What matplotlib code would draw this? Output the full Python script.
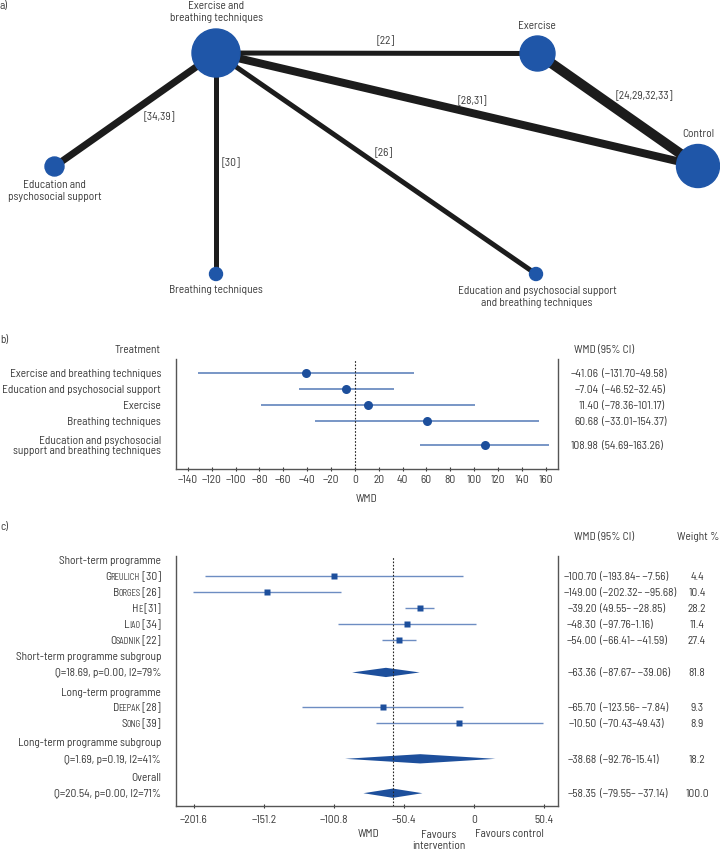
import numpy as np
import matplotlib
matplotlib.use("Agg")
import matplotlib.pyplot as plt
from matplotlib.patches import Circle, Polygon
from matplotlib import transforms

plt.rcParams['font.family'] = ['Barlow Semi Condensed', 'Roboto Condensed',
                               'Archivo Narrow', 'DejaVu Sans']

# ---- a) network ----
nodes = ["Exercise and\nbreathing techniques", "Exercise", "Control",
         "Education and\npsychosocial support", "Breathing techniques",
         "Education and psychosocial support\nand breathing techniques"]
node_radius = [24, 17.5, 21.5, 9.5, 6.5, 6.5]
edges = [(0, 1), (0, 2), (1, 2), (0, 3), (0, 4), (0, 5)]
edge_refs = ["[22]", "[28,31]", "[24,29,32,33]", "[34,39]", "[30]", "[26]"]
edge_width = [5, 8, 10, 7, 5, 5]

# ---- b) league vs control ----
treatments = ["Exercise and breathing techniques", "Education and psychosocial support",
              "Exercise", "Breathing techniques",
              "Education and psychosocial\nsupport and breathing techniques"]
b_est = [-41.06, -7.04, 11.40, 60.68, 108.98]
b_lo = [-131.70, -46.52, -78.36, -33.01, 54.69]
b_hi = [49.58, 32.45, 101.17, 154.37, 163.26]
b_ticks = list(range(-140, 161, 20))

# ---- c) pairwise meta-analysis ----
short_names = ["Greulich", "Borges", "He", "Liao", "Osadnik"]
short_refs = [30, 26, 31, 34, 22]
short_est = [-100.70, -149.00, -39.20, -48.30, -54.00]
short_lo = [-193.84, -202.32, -49.55, -97.76, -66.41]
short_hi = [-7.56, -95.68, -28.85, 1.16, -41.59]
short_ci = ["(−193.84– −7.56)", "(−202.32– −95.68)", "(49.55– −28.85)",
            "(−97.76–1.16)", "(−66.41– −41.59)"]
short_w = [4.4, 10.4, 28.2, 11.4, 27.4]

long_names = ["Deepak", "Song"]
long_refs = [28, 39]
long_est = [-65.70, -10.50]
long_lo = [-123.56, -70.43]
long_hi = [-7.84, 49.43]
long_ci = ["(−123.56– −7.84)", "(−70.43–49.43)"]
long_w = [9.3, 8.9]

pooled_labels = ["Short-term programme subgroup", "Long-term programme subgroup", "Overall"]
pooled_het = ["Q=18.69, p=0.00, I2=79%", "Q=1.69, p=0.19, I2=41%", "Q=20.54, p=0.00, I2=71%"]
pooled_est = [-63.36, -38.68, -58.35]
pooled_lo = [-87.67, -92.76, -79.55]
pooled_hi = [-39.06, 15.41, -37.14]
pooled_ci = ["(−87.67– −39.06)", "(−92.76–15.41)", "(−79.55– −37.14)"]
pooled_w = [81.8, 18.2, 100.0]
c_ticks = [-201.6, -151.2, -100.8, -50.4, 0, 50.4]

txt = '#3a3a3a'
blue = '#1f56a8'
mark = '#1d4f9c'
ci_col = '#6d8dc2'
fs = 8.2

W, H = 720, 853
fig = plt.figure(figsize=(W / 100, H / 100), dpi=100)


def fx(x):
    return x / W


def fy(y):
    return 1 - y / H


def num(v):
    return f"{v:.2f}".replace('-', '−')


def style_axis(ax):
    ax.set_yticks([])
    ax.tick_params(axis='x', labelsize=fs, colors=txt, length=3, width=0.8,
                   direction='inout', pad=2)
    for s in ['left', 'right', 'bottom']:
        ax.spines[s].set_color('#555555')
        ax.spines[s].set_linewidth(1.0)
    ax.spines['top'].set_visible(False)


# ---------------- panel a ----------------
node_xy = [(216, 54), (537.5, 54.5), (698, 167), (54.5, 167.5), (216, 275), (536, 275)]
label_xy = [(216, 12), (537, 26), (698, 134), (54.5, 191), (216, 290), (537, 297)]
ref_xy = [(386, 41), (472, 101), (644, 96), (159, 117), (231, 163), (384, 153)]

axa = fig.add_axes([0, fy(320), 1, 320 / H])
axa.set_xlim(0, W)
axa.set_ylim(320, 0)
axa.axis('off')
for (i, j), w, r, (lx, ly) in zip(edges, edge_width, edge_refs, ref_xy):
    (x0, y0), (x1, y1) = node_xy[i], node_xy[j]
    axa.plot([x0, x1], [y0, y1], color='#1c1c1c', lw=w * 0.72,
             solid_capstyle='butt', zorder=1)
    axa.text(lx, ly, r, ha='center', va='center', fontsize=fs, color=txt)
for (x, y), rad, name, (lx, ly) in zip(node_xy, node_radius, nodes, label_xy):
    axa.add_patch(Circle((x, y), rad, color=blue, zorder=2, clip_on=False))
    axa.text(lx, ly, name, ha='center', va='center', fontsize=fs, color=txt,
             linespacing=1.2)
fig.text(0, fy(6), "a)", fontsize=fs, color=txt, va='center')

# ---------------- panel b ----------------
axb = fig.add_axes([fx(176), fy(470), (557.5 - 176) / W, (470 - 360) / H])
b_y = [0, 1, 2, 3, 4.5]
for y, e, lo, hi in zip(b_y, b_est, b_lo, b_hi):
    axb.plot([lo, hi], [y, y], color=ci_col, lw=1.3, solid_capstyle='butt')
    axb.plot(e, y, 'o', color=mark, ms=6.5, mec='none')
axb.axvline(0, color='#222222', lw=0.8, ls=(0, (1.5, 1.5)))
axb.set_xlim(-150, 170)
axb.set_ylim(6.0, -0.875)
axb.set_xticks(b_ticks)
axb.set_xticklabels([str(t).replace('-', '−') for t in b_ticks])
style_axis(axb)

tb = transforms.blended_transform_factory(fig.transFigure, axb.transData)
for y, name, e, lo, hi in zip(b_y, treatments, b_est, b_lo, b_hi):
    axb.text(fx(161), y, name, transform=tb, ha='right', va='center',
             fontsize=fs, color=txt, linespacing=1.1)
    axb.text(fx(599), y, num(e), transform=tb, ha='right', va='center',
             fontsize=fs, color=txt)
    axb.text(fx(602), y, f"({num(lo)}–{num(hi)})", transform=tb, ha='left',
             va='center', fontsize=fs, color=txt)
fig.text(0, fy(340), "b)", fontsize=fs, color=txt, va='center')
fig.text(fx(161), fy(350), "Treatment", fontsize=fs, color=txt, ha='right', va='center')
fig.text(fx(574), fy(350), "WMD (95% CI)", fontsize=fs, color=txt, ha='left', va='center')
fig.text(fx(367), fy(499), "WMD", fontsize=fs, color=txt, ha='center', va='center')

# ---------------- panel c ----------------
axc = fig.add_axes([fx(176), fy(807), (558 - 176) / W, (807 - 557) / H])
axc.set_xlim(-214.5, 60.5)
axc.set_ylim(15.4, -0.23)
short_y = [1, 2, 3, 4, 5]
long_y = [9.2, 10.2]
head_y = [0, 8.25]
plabel_y = [6, 11.4, 13.56]
pool_y = [7.05, 12.45, 14.6]

for ys, es, los, his in [(short_y, short_est, short_lo, short_hi),
                         (long_y, long_est, long_lo, long_hi)]:
    for y, e, lo, hi in zip(ys, es, los, his):
        axc.plot([lo, hi], [y, y], color=ci_col, lw=1.0, solid_capstyle='butt')
        axc.plot(e, y, 's', color=mark, ms=4, mec='none')
for y, e, lo, hi in zip(pool_y, pooled_est, pooled_lo, pooled_hi):
    axc.add_patch(Polygon([[lo, y], [e, y - 0.29], [hi, y], [e, y + 0.29]],
                          closed=True, color=mark, lw=0))
axc.axvline(pooled_est[2], color='#222222', lw=0.8, ls=(0, (1.5, 1.5)))
axc.set_xticks(c_ticks)
axc.set_xticklabels([f"{t:g}".replace('-', '−') for t in c_ticks])
style_axis(axc)
axc.tick_params(axis='x', pad=4)

tc = transforms.blended_transform_factory(fig.transFigure, axc.transData)


def smallcaps(y, name, ref):
    t1 = axc.text(fx(161), y, f" [{ref}]", transform=tc, ha='right', va='center',
                  fontsize=fs, color=txt)
    t2 = axc.annotate(name[1:].upper(), xy=(0, 0), xycoords=t1, ha='right',
                      va='bottom', fontsize=fs * 0.75, color=txt)
    axc.annotate(name[0], xy=(0, 0), xycoords=t2, xytext=(0.4, 0),
                 textcoords='offset points', ha='right', va='bottom',
                 fontsize=fs, color=txt)


def right_cols(y, e, ci, w):
    axc.text(fx(597), y, num(e), transform=tc, ha='right', va='center', fontsize=fs, color=txt)
    axc.text(fx(600.5), y, ci, transform=tc, ha='left', va='center', fontsize=fs, color=txt)
    axc.text(fx(697), y, f"{w:.1f}", transform=tc, ha='center', va='center', fontsize=fs, color=txt)


for y, lab in zip(head_y, ["Short-term programme", "Long-term programme"]):
    axc.text(fx(161), y, lab, transform=tc, ha='right', va='center', fontsize=fs, color=txt)
for y, n, r, e, ci, w in zip(short_y, short_names, short_refs, short_est, short_ci, short_w):
    smallcaps(y, n, r)
    right_cols(y, e, ci, w)
for y, n, r, e, ci, w in zip(long_y, long_names, long_refs, long_est, long_ci, long_w):
    smallcaps(y, n, r)
    right_cols(y, e, ci, w)
for yl, yp, lab, het, e, ci, w in zip(plabel_y, pool_y, pooled_labels, pooled_het,
                                      pooled_est, pooled_ci, pooled_w):
    axc.text(fx(161), yl, lab, transform=tc, ha='right', va='center', fontsize=fs, color=txt)
    axc.text(fx(161), yp, het, transform=tc, ha='right', va='center', fontsize=fs, color=txt)
    right_cols(yp, e, ci, w)

fig.text(0, fy(527), "c)", fontsize=fs, color=txt, va='center')
fig.text(fx(574), fy(537), "WMD (95% CI)", fontsize=fs, color=txt, ha='left', va='center')
fig.text(fx(719), fy(537), "Weight %", fontsize=fs, color=txt, ha='right', va='center')
fig.text(fx(369), fy(834), "WMD", fontsize=fs, color=txt, ha='center', va='center')
fig.text(fx(439), fy(840.5), "Favours\nintervention", fontsize=fs, color=txt,
         ha='center', va='center', linespacing=1.05)
fig.text(fx(509), fy(834), "Favours control", fontsize=fs, color=txt, ha='center', va='center')

fig.savefig("out.png", dpi=100)
